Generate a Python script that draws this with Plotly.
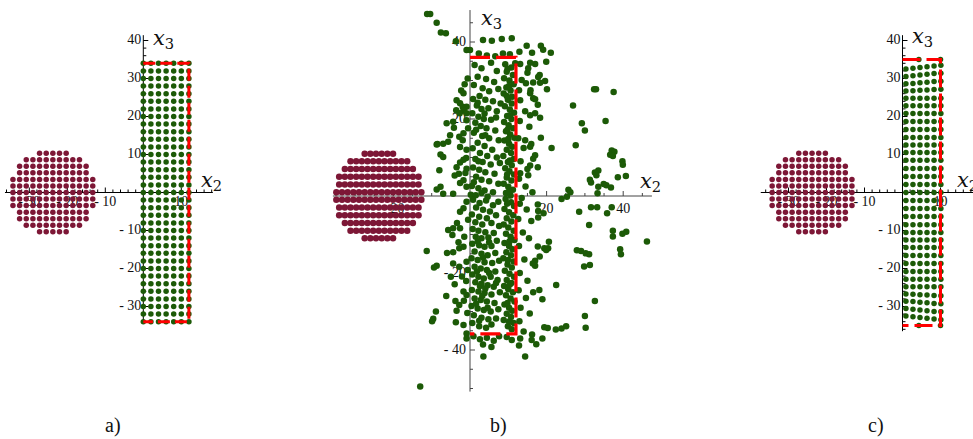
import plotly.graph_objects as go

# ---------------- data ----------------
ac_x_ticks = [-30, -20, -10, 10]
ac_x_labels = ["- 30", "- 20", "- 10", "10"]
ac_y_ticks = [-30, -20, -10, 10, 20, 30, 40]
ac_y_labels = ["- 30", "- 20", "- 10", "10", "20", "30", "40"]
b_x_ticks = [-20, 20, 40]
b_x_labels = ["- 20", "20", "40"]
b_y_ticks = [-40, -20, 20, 40]
b_y_labels = ["- 40", "- 20", "20", "40"]

# maroon disk (panels a, c): row heights and number of dots per row
disk_rows_y = [10.3, 8.6, 6.9, 5.2, 3.4, 1.7, 0.0, -1.7, -3.4, -5.2, -6.9, -8.6, -10.3]
disk_rows_n = [5, 9, 11, 11, 13, 13, 13, 13, 13, 11, 11, 9, 5]
disk_center = -23.8
disk_step = 1.75
# maroon disk, panel b
b_disk_rows_y = [11, 9, 7, 5, 3, 1, -1, -3, -5, -7, -9, -11]
b_disk_rows_n = [6, 11, 13, 15, 15, 16, 16, 15, 15, 13, 11, 6]
b_disk_center = -23.8
b_disk_step = 1.48

# panel a green grid
a_cols = [0, 2, 4, 6, 8, 10, 12]
a_rows = [-34, -32, -30, -28, -26, -24, -22, -20, -18, -16, -14, -12, -10, -8, -6, -4, -2, 0,
          2, 4, 6, 8, 10, 12, 14, 16, 18, 20, 22, 24, 26, 28, 30, 32, 34]
a_rect = (0, 12, -34, 34)

# panel c green grid (slightly bent rows near the ends)
c_cols = [0.9, 2.75, 4.6, 6.45, 8.3, 10.1]
c_flat_rows = [24.8, 22.8, 20.8, 18.7, 16.6, 14.5, 12.5, 10.5, 8.5, 6.3, 4.2, 2.1, 0.0,
               -2.1, -4.2, -6.3, -8.5, -10.5, -12.5, -14.5, -16.6, -18.7, -20.8, -22.8, -24.8]
c_bent_rows = [
    [32.5, 32.7, 32.9, 33.1, 33.3, 33.5],
    [30.5, 30.7, 30.9, 31.1, 31.3, 31.4],
    [28.6, 28.7, 28.9, 29.0, 29.2, 29.3],
    [26.7, 26.8, 26.9, 27.0, 27.1, 27.2],
    [-26.7, -26.8, -26.9, -27.0, -27.1, -27.2],
    [-28.6, -28.7, -28.9, -29.0, -29.2, -29.3],
    [-30.5, -30.7, -30.9, -31.1, -31.3, -31.4],
    [-32.5, -32.7, -32.9, -33.1, -33.3, -33.5],
]
c_edge_pts = [(4.3, 35), (10, 35), (4.3, -35), (10, -35)]
c_rect = (0, 10, -35, 35)

# panel b scattered green points
b_far_pts = [
    (18.5, 39.0), (19.1, 38.0), (21.1, 37.2), (19.9, 34.9), (17.0, 34.3), (18.2, 31.4), (17.8, 30.9),
    (19.6, 29.9), (18.3, 29.4), (20.1, 27.7), (17.0, 25.1), (17.7, 23.7), (17.0, 21.5), (18.3, 20.3),
    (18.5, 15.1), (21.3, 12.5), (17.0, 10.6), (17.7, 7.5), (32.4, 27.7), (32.9, 27.7), (37.5, 27.0),
    (26.9, 23.5), (35.4, 19.5), (29.2, 18.9), (30.0, 17.0), (27.6, 13.2), (37.0, 11.8), (37.7, 11.5),
    (36.6, 10.7), (37.3, 10.4), (39.8, 9.0), (39.9, 8.1), (33.5, 6.6), (32.6, 6.1), (33.0, 5.4),
    (31.3, 4.2), (31.6, 3.5), (38.6, 4.9), (40.7, 5.2), (34.9, 3.1), (35.6, 2.8), (36.8, 2.2),
    (33.5, 2.4), (33.3, 0.7), (25.7, 1.6), (26.2, 1.0), (25.3, -0.2), (23.9, -0.8),
    (17.7, -2.2), (17.8, -3.9), (19.2, -4.5), (17.8, -5.6), (28.5, -4.1), (31.6, -2.9), (33.2, -2.9),
    (37.0, -2.9), (35.8, -4.5), (31.1, -7.5), (37.3, -9.0), (37.3, -10.5), (39.8, -9.8), (40.8, -9.3),
    (46.2, -11.8), (17.7, -13.1), (19.4, -13.6), (20.4, -13.6), (19.9, -14.0), (20.6, -11.9),
    (18.2, -15.7), (17.0, -16.8), (17.0, -18.1), (27.9, -14.1), (29.0, -14.3), (30.2, -14.9),
    (31.1, -15.1), (29.8, -18.3), (31.3, -17.9), (39.2, -13.8), (39.4, -15.1), (22.5, -23.1),
    (18.9, -26.8), (18.1, -24.4), (32.6, -27.3), (30.0, -31.2), (30.2, -34.2), (19.4, -34.1),
    (20.3, -34.3), (22.4, -34.7), (23.9, -34.4), (25.1, -33.8), (18.9, -37.0), (17.3, -38.5),
]
b_left_pts = [
    (-11.2, 47.3), (-10.4, 47.3), (-8.7, 45.0), (-7.6, 42.5), (-6.3, 42.3), (-3.7, 40.2), (-0.9, 37.9),
    (-13.0, -49.5), (-2.3, 27.4), (-1.7, 26.7), (-3.5, 24.9), (-2.6, 24.1), (-1.9, 23.2), (-0.9, 23.2),
    (-1.7, 22.3), (-0.9, 21.5), (-0.9, 19.7), (-4.4, 19.3), (-1.7, 16.3), (-2.8, 15.4), (-1.9, 14.5),
    (-5.2, 15.8), (-7.0, 13.6), (-8.7, 13.4), (-2.6, 12.7), (-0.9, 12.0), (-7.7, 10.8), (-7.0, 10.1),
    (-1.0, 9.9), (-1.7, 9.4), (-2.6, 8.7), (-3.5, 7.5), (-8.0, 6.7), (-0.9, 7.1), (-2.9, 5.8),
    (-4.0, 5.3), (-1.7, 4.1), (-2.6, 3.4), (-7.7, 2.4), (-8.7, 1.7), (-7.0, 0.6), (-0.9, 2.4),
    (-4.4, 0.6), (-3.6, 22.3), (-2.7, 21.5), (-6.1, 18.9), (-4.2, 17.7), (-5.7, 14.1), (-8.5, 13.5),
    (-11.3, -14.3), (-8.7, -18.1), (-9.4, -18.6), (-4.0, -22.9), (-3.8, -27.3), (-8.9, -30.0),
    (-9.6, -31.9), (-9.9, -32.5), (-3.7, -32.8), (-1.7, -33.5), (-4.4, -8.4), (-2.6, -8.4),
    (-1.7, -3.2), (-2.6, -4.1), (-0.9, -1.5), (-2.8, -13.6), (-1.7, -13.2), (-4.4, -14.6),
    (-0.9, -17.1), (-2.8, -18.4), (-2.1, -20.9), (-1.0, -22.1), (-1.7, -24.8), (-0.9, -25.7),
    (-2.8, -28.3), (-0.9, -35.7), (-0.9, -37.0), (-5.7, -8.8), (-4.6, -10.1), (-6.0, -14.8),
    (-5.0, -21.0), (-6.2, -26.0), (-3.5, -29.8), (-3.4, -7.0), (-3.0, -12.0), (-4.4, -17.5),
    (-0.6, 30.5), (-1.4, 29.0), (-0.5, 17.6), (-1.2, 6.0), (-0.5, -6.2), (-1.5, -10.6),
    (-0.6, -19.2), (-1.6, -27.2), (-0.7, -30.4),
]
b_core_upper_left = [
    (3.4, 40.5), (5.7, 40.3), (8.3, 40.8), (10.9, 41.0), (0.0, 37.9), (2.3, 37.0), (4.4, 36.5),
    (6.6, 36.3), (8.6, 37.0), (10.4, 36.8), (1.2, 34.0), (3.0, 33.2), (5.5, 34.6), (7.0, 32.5),
    (2.0, 31.0), (4.2, 30.4), (6.3, 29.6), (1.0, 28.8), (3.3, 28.0), (5.0, 27.2), (7.4, 27.8),
    (2.5, 26.0), (0.8, 25.2), (4.0, 25.0), (6.0, 24.6), (1.8, 23.5), (3.0, 22.6), (4.8, 22.8),
    (7.0, 22.0), (0.6, 21.5), (2.2, 20.6), (3.6, 20.0), (5.5, 19.8), (1.4, 19.0), (2.8, 18.2),
    (4.3, 17.6), (6.6, 17.0), (1.0, 16.4), (3.2, 15.6), (5.0, 15.0), (7.5, 14.5), (2.0, 13.8),
    (3.8, 13.0), (0.7, 12.4), (5.8, 12.0), (2.6, 11.2), (4.5, 10.4), (7.0, 10.0), (1.4, 9.6),
    (3.3, 8.8), (5.4, 8.2), (0.8, 7.4), (2.4, 6.8), (4.0, 6.2), (6.4, 5.8), (1.6, 5.0), (3.0, 4.2),
    (5.0, 3.8), (7.4, 3.2), (0.5, 2.6), (2.2, 2.0), (3.8, 1.4), (6.0, 1.0), (0.2, 0.3), (1.5, 0.2),
    (4.6, -0.2), (2.0, 24.2), (3.8, 21.4), (1.6, 17.2), (4.0, 15.8), (2.2, 9.0), (1.0, 3.6),
    (3.0, 0.8), (6.8, 20.4), (7.8, 8.6), (8.0, 24.0),
]
b_core_upper_band = [
    (9.2, 34.2), (10.8, 33.4), (9.6, 32.3), (11.2, 31.4), (8.9, 30.6), (10.3, 30.0), (11.4, 29.0),
    (9.5, 28.2), (10.6, 27.4), (8.8, 26.6), (11.0, 25.8), (9.9, 25.0), (10.9, 24.0), (9.1, 23.3),
    (10.4, 22.5), (11.5, 21.6), (9.7, 20.8), (10.8, 20.0), (8.9, 19.2), (10.1, 18.4), (11.3, 17.6),
    (9.4, 16.8), (10.5, 16.0), (11.6, 15.1), (9.0, 14.4), (10.2, 13.6), (11.0, 12.8), (9.6, 12.0),
    (10.7, 11.2), (8.7, 10.4), (11.4, 9.6), (9.9, 8.8), (10.9, 8.0), (9.2, 7.2), (10.3, 6.4),
    (11.5, 5.6), (9.6, 4.8), (10.8, 4.0), (8.8, 3.2), (10.0, 2.4), (11.2, 1.6), (9.4, 0.8),
    (10.6, 0.1), (9.8, 33.0), (10.2, 28.6), (9.6, 26.0), (10.4, 21.0), (9.8, 17.2), (10.0, 14.8),
    (10.4, 9.2), (9.7, 5.6), (10.2, 1.2), (11.8, 34.5),
]
b_right_upper = [
    (13.1, 34.3), (15.7, 34.6), (13.5, 30.1), (14.6, 29.3), (13.1, 24.9), (15.7, 26.7), (16.2, 37.2),
    (14.8, 39.0), (12.8, 27.5), (14.4, 22.0), (13.0, 19.5), (15.5, 18.0), (12.6, 15.0), (14.0, 12.5),
    (16.0, 13.5), (13.2, 9.0), (15.0, 7.0), (12.8, 4.5), (14.5, 2.5), (16.3, 1.0), (13.5, -0.5),
    (16.5, 29.5), (15.0, 32.0), (12.9, 37.5), (15.2, 33.2), (15.8, 27.5), (16.5, 25.4), (15.7, 21.0),
    (14.4, 14.5), (15.7, 12.8), (16.5, 9.7), (15.7, 7.9), (13.1, 5.9), (15.2, 5.4),
]
b_core_lower_left = [
    (0.8, -1.0), (2.5, -1.8), (4.2, -1.2), (6.0, -2.4), (7.4, -1.5), (1.6, -3.0), (3.4, -3.6),
    (5.2, -4.0), (0.5, -4.8), (2.4, -5.4), (4.4, -5.8), (6.8, -5.0), (1.4, -6.8), (3.2, -7.4),
    (5.6, -7.0), (7.6, -7.8), (0.7, -8.6), (2.2, -9.0), (4.0, -9.4), (6.2, -9.6), (1.5, -10.6),
    (3.0, -11.0), (4.8, -10.8), (7.0, -11.6), (0.6, -12.4), (2.4, -12.8), (3.8, -13.2), (5.6, -13.0),
    (1.2, -14.4), (3.0, -15.0), (4.6, -15.4), (6.6, -14.8), (0.4, -16.2), (2.0, -16.6), (3.8, -17.2),
    (5.8, -17.4), (7.6, -16.8), (1.2, -18.4), (2.8, -18.8), (4.4, -19.2), (6.6, -19.6), (0.6, -20.4),
    (2.2, -21.0), (3.6, -21.4), (5.4, -21.0), (7.2, -21.8), (1.4, -22.4), (3.0, -22.8), (4.6, -23.2),
    (6.2, -23.6), (0.5, -24.4), (2.2, -24.8), (3.8, -25.2), (5.6, -25.6), (7.8, -25.0), (1.2, -26.6),
    (2.8, -27.0), (4.4, -27.4), (6.4, -27.8), (0.4, -28.6), (2.0, -29.2), (3.6, -29.6), (5.4, -30.0),
    (7.4, -29.4), (1.0, -31.0), (3.0, -31.6), (4.8, -32.0), (6.8, -31.8), (0.6, -33.0), (2.4, -33.8),
    (4.2, -34.2), (0.9, -36.4), (2.6, -37.2), (4.4, -36.8), (6.2, -37.6), (7.6, -36.4), (3.4, -38.6),
    (5.6, -39.2), (3.5, -41.7), (9.6, -36.6), (10.9, -37.4), (2.0, -11.8), (5.0, -12.0),
    (3.4, -16.0), (1.8, -19.6), (5.0, -20.0), (2.6, -23.4), (4.0, -24.0), (6.8, -22.6),
    (3.2, -26.0), (1.6, -28.0), (4.6, -29.0), (2.4, -32.4), (5.6, -33.4),
]
b_core_lower_band = [
    (9.3, -0.8), (10.7, -1.6), (11.5, -2.6), (9.0, -3.4), (10.2, -4.2), (11.3, -5.0), (9.6, -5.8),
    (10.8, -6.6), (8.8, -7.4), (10.0, -8.2), (11.4, -9.0), (9.4, -9.8), (10.6, -10.6), (11.6, -11.4),
    (9.0, -12.2), (10.2, -13.0), (11.1, -13.8), (9.5, -14.6), (10.7, -15.4), (8.7, -16.2),
    (11.4, -17.0), (9.8, -17.8), (10.9, -18.6), (9.1, -19.4), (10.3, -20.2), (11.5, -21.0),
    (9.6, -21.8), (10.8, -22.6), (8.9, -23.4), (10.0, -24.2), (11.2, -25.0), (9.4, -25.8),
    (10.6, -26.6), (11.6, -27.4), (9.0, -28.2), (10.2, -29.0), (11.0, -29.8), (9.6, -30.6),
    (10.7, -31.4), (8.8, -32.2), (11.4, -33.0), (9.9, -33.8), (10.9, -34.6), (9.7, -2.0),
    (10.3, -11.8), (9.9, -16.6), (10.4, -23.0), (9.8, -27.8), (10.2, -32.6),
]
b_right_lower = [
    (13.0, -2.0), (14.8, -3.5), (12.6, -6.0), (16.0, -6.5), (13.8, -9.5), (15.4, -11.0), (12.8, -13.0),
    (14.2, -16.5), (16.4, -17.5), (13.0, -20.0), (15.0, -22.0), (12.7, -24.5), (14.6, -26.5),
    (16.5, -25.0), (13.2, -29.0), (15.6, -30.5), (12.9, -32.5), (14.0, -35.2), (16.2, -36.0),
    (13.1, -37.0), (14.4, -41.7), (12.8, -38.8), (16.1, -37.4),
]
b_rect = (0, 12, -35.8, 36)

# ---------------- styling / layout ----------------
MAROON = "#7d1736"
GREEN = "#1c5a07"
RED = "#ff0000"
SERIF = "Liberation Serif"
MATH = "DejaVu Serif"
W, H = 973, 439
PY0, PY1 = 0, 400

panels = [
    dict(box=(0, 240), ox=143.3, oy=192.5, sx=3.8, sy=3.8, axcol="#000000",
         xext=(-36.4, 18.3), yext=(-34.4, 41.4), minor=2, tmaj=5, tmin=3,
         xt=ac_x_ticks, xl=ac_x_labels, yt=ac_y_ticks, yl=ac_y_labels, lpad=(2, 3),
         x3=(2.0, 40.3), x2=(14.6, 3.0), dash="12px,5px"),
    dict(box=(300, 700), ox=470, oy=196, sx=3.83, sy=3.85, axcol="#444444",
         xext=(-35.8, 47.5), yext=(-50.8, 48.3), minor=5, tmaj=5, tmin=3,
         xt=b_x_ticks, xl=b_x_labels, yt=b_y_ticks, yl=b_y_labels, lpad=(4, 6),
         x3=(2.3, 46.0), x2=(43.9, 3.7), dash="20px,6px"),
    dict(box=(740, 973), ox=902.5, oy=192.5, sx=3.8, sy=3.8, axcol="#000000",
         xext=(-37.3, 19.0), yext=(-36.5, 41.4), minor=2, tmaj=5, tmin=3,
         xt=ac_x_ticks, xl=ac_x_labels, yt=ac_y_ticks, yl=ac_y_labels, lpad=(2, 3),
         x3=(2.1, 40.8), x2=(13.8, 3.1), dash="18px,6px"),
]

fig = go.Figure()
annotations = []


def add(i, **kw):
    xa = "x" if i == 1 else f"x{i}"
    ya = "y" if i == 1 else f"y{i}"
    fig.add_trace(go.Scatter(xaxis=xa, yaxis=ya, hoverinfo="skip", showlegend=False, **kw))


def disk_points(rows_y, rows_n, cx, step):
    xs, ys = [], []
    for y, n in zip(rows_y, rows_n):
        for k in range(n):
            xs.append(cx + (k - (n - 1) / 2) * step)
            ys.append(y)
    return xs, ys


def grid_points(cols, rows):
    xs, ys = [], []
    for y in rows:
        for x in cols:
            xs.append(x)
            ys.append(y)
    return xs, ys


def rect_path(r):
    x0, x1, y0, y1 = r
    return [x0, x1, x1, x0], [y1, y1, y0, y0]


for i, p in enumerate(panels, start=1):
    sx, sy = p["sx"], p["sy"]
    add(i, x=[p["xext"][0], p["xext"][1], None, 0, 0], y=[0, 0, None, p["yext"][0], p["yext"][1]],
        mode="lines", line=dict(color=p["axcol"], width=1))
    txs, tys = [], []
    m = p["minor"]
    v = -m * int(-p["xext"][0] // m)
    while v <= p["xext"][1]:
        if v != 0:
            L = (p["tmaj"] if v in p["xt"] else p["tmin"]) / sy
            txs += [v, v, None]
            tys += [0, L, None]
        v += m
    v = -m * int(-p["yext"][0] // m)
    while v <= p["yext"][1]:
        if v != 0:
            L = (p["tmaj"] if v in p["yt"] else p["tmin"]) / sx
            txs += [0, L, None]
            tys += [v, v, None]
        v += m
    add(i, x=txs, y=tys, mode="lines", line=dict(color=p["axcol"], width=1))
    add(i, x=[-p["lpad"][0] / sx] * len(p["yt"]), y=p["yt"], mode="text", text=p["yl"],
        textposition="middle left", cliponaxis=False,
        textfont=dict(family=SERIF, size=14, color="#111"))
    add(i, x=p["xt"], y=[-p["lpad"][1] / sy] * len(p["xt"]), mode="text", text=p["xl"],
        textposition="bottom center", cliponaxis=False,
        textfont=dict(family=SERIF, size=14, color="#111"))
    xr = "x" if i == 1 else f"x{i}"
    yr = "y" if i == 1 else f"y{i}"
    for name, pos in (("3", p["x3"]), ("2", p["x2"])):
        annotations.append(dict(x=pos[0], y=pos[1], xref=xr, yref=yr,
                                text=f"<i>x</i><sub>{name}</sub>",
                                showarrow=False, xanchor="left", yanchor="middle",
                                font=dict(family=MATH, size=21, color="#111")))

dx, dy = disk_points(disk_rows_y, disk_rows_n, disk_center, disk_step)
add(1, x=dx, y=dy, mode="markers", marker=dict(size=5.5, color=MAROON, line=dict(width=0)))
gx, gy = grid_points(a_cols, a_rows)
add(1, x=gx, y=gy, mode="markers", marker=dict(size=5.5, color=GREEN, line=dict(width=0)))
rx, ry = rect_path(a_rect)
add(1, x=rx, y=ry, mode="lines", line=dict(color=RED, width=3, dash=panels[0]["dash"]))

bdx, bdy = disk_points(b_disk_rows_y, b_disk_rows_n, b_disk_center, b_disk_step)
add(2, x=bdx, y=bdy, mode="markers", marker=dict(size=6.5, color=MAROON, line=dict(width=0)))
bpts = (b_far_pts + b_left_pts + b_core_upper_left + b_core_upper_band + b_right_upper
        + b_core_lower_left + b_core_lower_band + b_right_lower)
add(2, x=[q[0] for q in bpts], y=[q[1] for q in bpts], mode="markers",
    marker=dict(size=6.5, color=GREEN, line=dict(width=0)))
rx, ry = rect_path(b_rect)
add(2, x=rx, y=ry, mode="lines", line=dict(color=RED, width=3.2, dash=panels[1]["dash"]))

add(3, x=dx, y=dy, mode="markers", marker=dict(size=5.5, color=MAROON, line=dict(width=0)))
cx, cy = grid_points(c_cols, c_flat_rows)
for row in c_bent_rows:
    cx += c_cols
    cy += row
cx += [q[0] for q in c_edge_pts]
cy += [q[1] for q in c_edge_pts]
add(3, x=cx, y=cy, mode="markers", marker=dict(size=5.5, color=GREEN, line=dict(width=0)))
rx, ry = rect_path(c_rect)
add(3, x=rx, y=ry, mode="lines", line=dict(color=RED, width=3, dash=panels[2]["dash"]))

for lab, px in [("a)", 113), ("b)", 498), ("c)", 876)]:
    annotations.append(dict(x=px / W, y=1 - 425 / H, xref="paper", yref="paper", text=lab,
                            showarrow=False, xanchor="center", yanchor="middle",
                            font=dict(family=SERIF, size=20, color="#111")))

layout = dict(width=W, height=H, margin=dict(l=0, r=0, t=0, b=0), paper_bgcolor="white",
              plot_bgcolor="rgba(0,0,0,0)", annotations=annotations, showlegend=False,
              font=dict(family=SERIF))
for i, p in enumerate(panels, start=1):
    x0, x1 = p["box"]
    xrng = [(x0 - p["ox"]) / p["sx"], (x1 - p["ox"]) / p["sx"]]
    yrng = [(p["oy"] - PY1) / p["sy"], (p["oy"] - PY0) / p["sy"]]
    kx = "xaxis" if i == 1 else f"xaxis{i}"
    ky = "yaxis" if i == 1 else f"yaxis{i}"
    layout[kx] = dict(domain=[x0 / W, x1 / W], range=xrng, visible=False, fixedrange=True,
                      anchor="y" if i == 1 else f"y{i}")
    layout[ky] = dict(domain=[1 - PY1 / H, 1 - PY0 / H], range=yrng, visible=False, fixedrange=True,
                      anchor="x" if i == 1 else f"x{i}")
fig.update_layout(**layout)
fig.write_html("out.html")
